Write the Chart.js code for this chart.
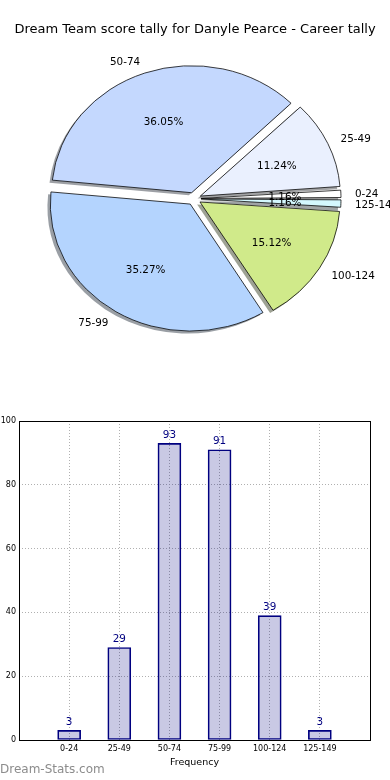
<!DOCTYPE html>
<html><head><meta charset="utf-8">
<script src="https://cdn.jsdelivr.net/npm/chart.js@4"></script>
<style>
html,body{margin:0;padding:0;background:#fff;}
body{width:390px;height:780px;position:relative;overflow:hidden;}
canvas{position:absolute;left:0;}
#pie{top:0;} #bar{top:400px;}
</style></head><body>
<canvas id="pie" width="390" height="400"></canvas>
<canvas id="bar" width="390" height="380"></canvas>
<script>
const chartTitle = 'Dream Team score tally for Danyle Pearce - Career tally';
const categories = ['0-24', '25-49', '50-74', '75-99', '100-124', '125-149'];
const frequencies = [3, 29, 93, 91, 39, 3];
const yTickValues = [0, 20, 40, 60, 80, 100];
const xAxisTitle = 'Frequency';
const watermarkText = 'Dream-Stats.com';

const sliceColors = ['#ffffff', '#eaf0fe', '#c4d8fe', '#b4d4fe', '#d0ea8a', '#d4f8fe'];
const FONT = "'DejaVu Sans', sans-serif";
const RX = 140, RY = 127, EXPLODE = 7;

const order = categories.map((_, i) => categories.length - 1 - i);
const total = frequencies.reduce((a, b) => a + b, 0);

function hexToRgb(h) {
  h = h.replace('#', '');
  return [0, 2, 4].map(k => parseInt(h.substr(k, 2), 16));
}

const ellipsePlugin = {
  id: 'ellipse',
  beforeDatasetsDraw(chart) {
    const ctx = chart.ctx;
    const meta = chart.getDatasetMeta(0);
    const cx = meta.data[0].x, cy = meta.data[0].y;
    meta.data.forEach(arc => {
      const off = (arc.options.offset || 0) / 4;
      const fix = 1 - Math.sin(Math.min(Math.PI, arc.circumference));
      arc.outerRadius = RX - off * fix;
    });
    ctx.save();
    ctx.save();
    ctx.translate(-2.8, 2.5);
    ctx.translate(cx, cy); ctx.scale(1, RY / RX); ctx.translate(-cx, -cy);
    meta.data.forEach((arc, j) => {
      const idx = order[j];
      const mid = (arc.startAngle + arc.endAngle) / 2;
      const ox = cx + Math.cos(mid) * EXPLODE, oy = cy + Math.sin(mid) * EXPLODE;
      ctx.beginPath();
      ctx.moveTo(ox, oy);
      ctx.arc(ox, oy, RX, arc.startAngle, arc.endAngle);
      ctx.closePath();
      const c = hexToRgb(sliceColors[idx]);
      ctx.fillStyle = 'rgba(' + c.map(v => Math.round(v * 0.3)).join(',') + ',0.5)';
      ctx.fill();
    });
    ctx.restore();
    ctx.translate(cx, cy); ctx.scale(1, RY / RX); ctx.translate(-cx, -cy);
  },
  afterDatasetsDraw(chart) {
    const ctx = chart.ctx;
    ctx.restore();
    const meta = chart.getDatasetMeta(0);
    const cx = meta.data[0].x, cy = meta.data[0].y;
    ctx.save();
    ctx.fillStyle = '#000';
    ctx.font = '10.4px ' + FONT;
    ctx.textBaseline = 'middle';
    meta.data.forEach((arc, j) => {
      const idx = order[j];
      const mid = (arc.startAngle + arc.endAngle) / 2;
      const c = Math.cos(mid), s = Math.sin(mid);
      const ex = cx + EXPLODE * c, ey = cy + EXPLODE * (RY / RX) * s + 1.3;
      ctx.textAlign = c > 0 ? 'left' : 'right';
      ctx.fillText(categories[idx], ex + 1.1 * RX * c, ey + 1.1 * RY * s);
      ctx.textAlign = 'center';
      ctx.fillText((frequencies[idx] / total * 100).toFixed(2) + '%', ex + 0.6 * RX * c, ey + 0.6 * RY * s);
    });
    ctx.font = '13px ' + FONT;
    ctx.textAlign = 'center';
    ctx.fillText(chartTitle, 195, 30);
    ctx.restore();
  }
};

new Chart(document.getElementById('pie'), {
  type: 'pie',
  data: {
    labels: order.map(i => categories[i]),
    datasets: [{
      data: order.map(i => frequencies[i]),
      backgroundColor: order.map(i => sliceColors[i]),
      borderColor: '#000',
      borderWidth: 0.8,
      offset: 28,
      hoverOffset: 28
    }]
  },
  options: {
    responsive: false,
    animation: false,
    events: [],
    rotation: 90,
    radius: RX,
    layout: { padding: { left: 0, right: 2, top: 0, bottom: 2.6 } },
    plugins: { legend: { display: false }, tooltip: { enabled: false } }
  },
  plugins: [ellipsePlugin]
});

const barExtras = {
  id: 'barExtras',
  afterDatasetsDraw(chart) {
    const ctx = chart.ctx;
    const meta = chart.getDatasetMeta(0);
    ctx.save();
    ctx.fillStyle = '#000080';
    ctx.font = '10.4px ' + FONT;
    ctx.textAlign = 'center';
    ctx.textBaseline = 'middle';
    meta.data.forEach((bar, i) => {
      ctx.fillText(String(frequencies[i]), bar.x, bar.y - 8.5);
    });
    ctx.restore();
  },
  afterDraw(chart) {
    const ctx = chart.ctx;
    const a = chart.chartArea;
    ctx.save();
    ctx.strokeStyle = '#000';
    ctx.lineWidth = 1;
    ctx.strokeRect(Math.round(a.left) + 0.5, Math.round(a.top) + 0.5, Math.round(a.right - a.left), Math.round(a.bottom - a.top));
    ctx.fillStyle = '#8c8c8c';
    ctx.font = '12px ' + FONT;
    ctx.textAlign = 'left';
    ctx.textBaseline = 'middle';
    ctx.fillText(watermarkText, 0, 370);
    ctx.restore();
  }
};

new Chart(document.getElementById('bar'), {
  type: 'bar',
  data: {
    datasets: [{
      data: frequencies.map((v, i) => ({ x: i, y: v })),
      backgroundColor: 'rgba(0,0,128,0.21)',
      borderColor: '#000080',
      borderWidth: 1,
      borderSkipped: false,
      barThickness: 23
    }]
  },
  options: {
    responsive: false,
    animation: false,
    events: [],
    layout: { padding: { left: 0, right: 20, top: 21, bottom: 0 } },
    plugins: { legend: { display: false }, tooltip: { enabled: false } },
    scales: {
      x: {
        type: 'linear', min: -1, max: categories.length, offset: false,
        afterBuildTicks: s => { s.ticks = []; for (let v = -1; v <= categories.length; v++) s.ticks.push({ value: v }); },
        ticks: { autoSkip: false, maxRotation: 0, callback: v => categories[v] ?? '', font: { size: 8, family: FONT }, color: '#000', padding: 4 },
        grid: { color: '#b0b0b0', lineWidth: 1, drawTicks: false, offset: false },
        border: { display: false, dash: [1, 2] },
        title: { display: true, text: xAxisTitle, font: { size: 9.5, family: FONT }, color: '#000', padding: { top: 3, bottom: 12 } },
        afterFit: s => { s.height = 40; }
      },
      y: {
        min: 0, max: 100,
        afterBuildTicks: s => { s.ticks = yTickValues.map(v => ({ value: v })); },
        ticks: { font: { size: 8, family: FONT }, color: '#000', padding: 3 },
        grid: { color: '#b0b0b0', lineWidth: 1, drawTicks: false },
        border: { display: false, dash: [1, 2] },
        afterFit: s => { s.width = 19; }
      }
    }
  },
  plugins: [barExtras]
});
</script>
</body></html>
